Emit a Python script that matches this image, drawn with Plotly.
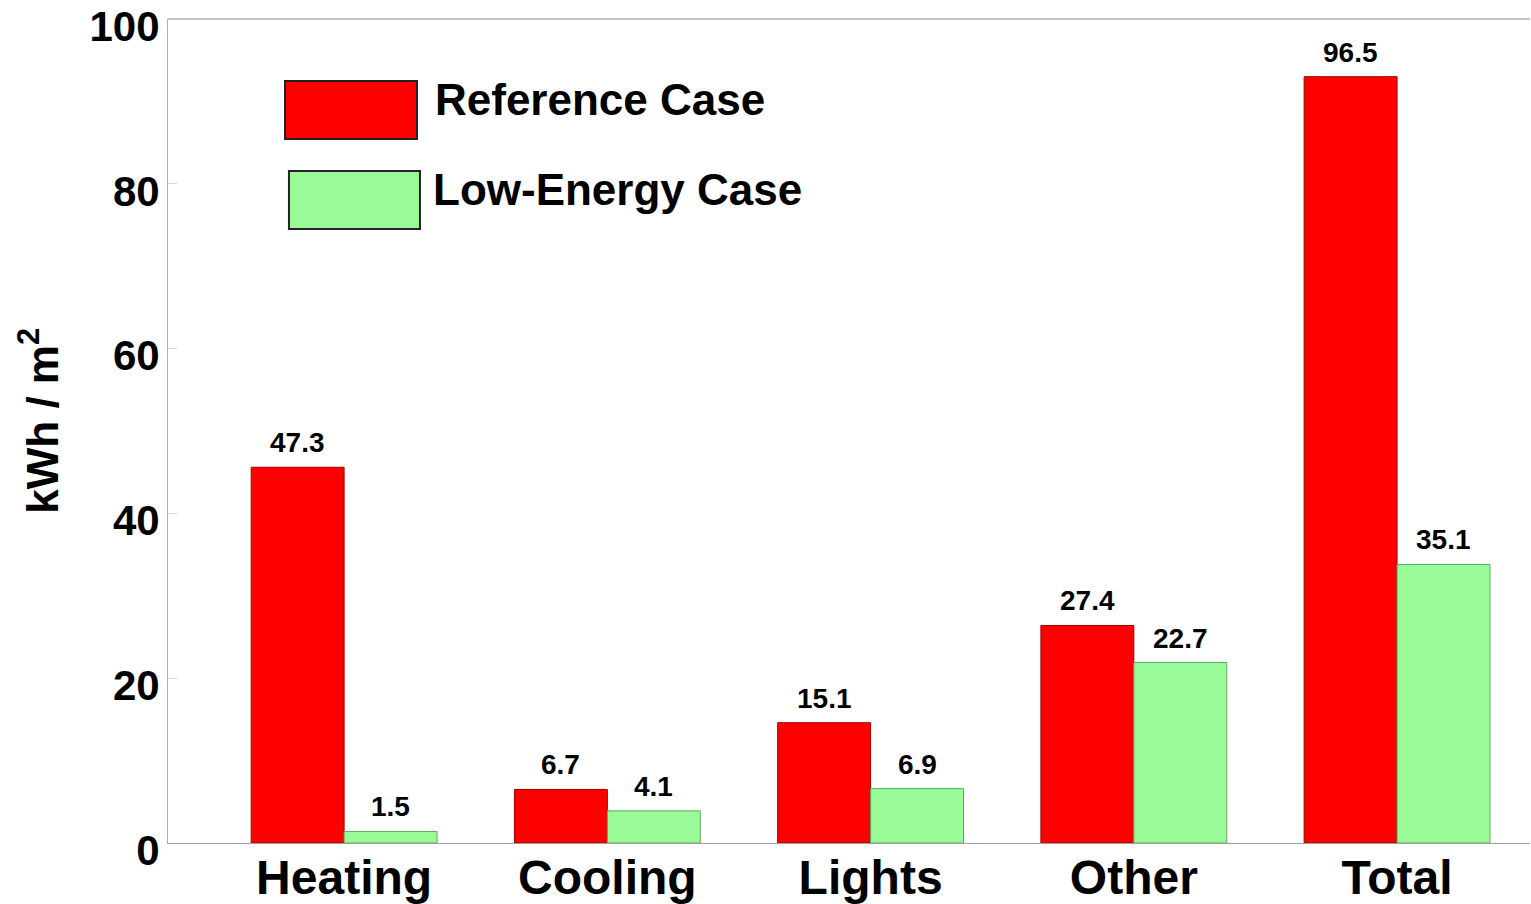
import plotly.graph_objects as go

categories = ["Heating", "Cooling", "Lights", "Other", "Total"]
# bar heights as drawn in the picture
ref_heights = [45.6, 6.5, 14.6, 26.4, 93.0]
low_heights = [1.4, 3.9, 6.6, 21.9, 33.8]
# value labels printed above the bars
ref_labels = ["47.3", "6.7", "15.1", "27.4", "96.5"]
low_labels = ["1.5", "4.1", "6.9", "22.7", "35.1"]
series_names = ["Reference Case", "Low-Energy Case"]
y_ticks = [0, 20, 40, 60, 80, 100]

FONT = "Liberation Sans, Arial, sans-serif"
RED = "#FF0000"
GREEN = "#98FB98"

fig = go.Figure()
fig.add_trace(go.Bar(x=categories, y=ref_heights, name=series_names[0],
                     marker=dict(color=RED, line=dict(color="#A00000", width=1))))
fig.add_trace(go.Bar(x=categories, y=low_heights, name=series_names[1],
                     marker=dict(color=GREEN, line=dict(color="#5FA85F", width=1))))

bw = (1 - 0.294) / 2
annotations = []
for i in range(len(categories)):
    for off, h, lab in ((-bw / 2, ref_heights[i], ref_labels[i]), (bw / 2, low_heights[i], low_labels[i])):
        annotations.append(dict(x=i + off, y=h, xref="x", yref="y", text="<b>%s</b>" % lab,
                                showarrow=False, yanchor="bottom", yshift=7,
                                font=dict(family=FONT, size=28, color="black")))

# legend drawn manually (large swatches)
shapes = [
    dict(type="rect", xref="paper", yref="paper", x0=0.0859, x1=0.1828, y0=0.8544, y1=0.9248,
         fillcolor=RED, line=dict(color="#222222", width=2)),
    dict(type="rect", xref="paper", yref="paper", x0=0.0888, x1=0.1850, y0=0.7451, y1=0.8155,
         fillcolor=GREEN, line=dict(color="#222222", width=2)),
    dict(type="line", xref="paper", yref="paper", x0=0, x1=1, y0=1, y1=1,
         line=dict(color="#C4C4C4", width=2)),
]
annotations.append(dict(x=0.1946, y=0.9017, xref="paper", yref="paper", xanchor="left", yanchor="middle",
                        text="<b>%s</b>" % series_names[0], showarrow=False,
                        font=dict(family=FONT, size=44, color="black")))
annotations.append(dict(x=0.1931, y=0.7925, xref="paper", yref="paper", xanchor="left", yanchor="middle",
                        text="<b>%s</b>" % series_names[1], showarrow=False,
                        font=dict(family=FONT, size=44, color="black")))
annotations.append(dict(x=-0.095, y=0.512, xref="paper", yref="paper", xanchor="center", yanchor="middle",
                        textangle=-90, text="<b>kWh / m<sup style='font-size:70%'>2</sup></b>", showarrow=False,
                        font=dict(family=FONT, size=44, color="black")))

fig.update_layout(
    width=1531, height=904,
    margin=dict(l=168, r=1, t=19, b=61, autoexpand=False),
    barmode="group", bargap=0.294, bargroupgap=0,
    showlegend=False,
    plot_bgcolor="white", paper_bgcolor="white",
    shapes=shapes, annotations=annotations,
    font=dict(family=FONT, color="black"),
)
fig.update_xaxes(range=[-0.669, 4.505], showline=True, linecolor="#A0A0A0", linewidth=1,
                 showgrid=False, ticks="", zeroline=False, ticklabeloverflow="allow", automargin=False,
                 ticklabelstandoff=-8,
                 tickfont=dict(family=FONT, size=48, color="black", weight="bold"))
fig.update_yaxes(range=[0, 100], tickvals=y_ticks, showline=True, linecolor="#B0B0B0", linewidth=1,
                 showgrid=False, zeroline=False, ticks="inside", ticklen=9, tickcolor="#D8D8D8",
                 ticklabelshift=7, ticklabelstandoff=-1, ticklabeloverflow="allow", automargin=False,
                 tickfont=dict(family=FONT, size=42, color="black", weight="bold"))

fig.write_html("out.html", config={"displayModeBar": False},
               post_script="document.body.style.margin='0';document.body.style.padding='0';")
